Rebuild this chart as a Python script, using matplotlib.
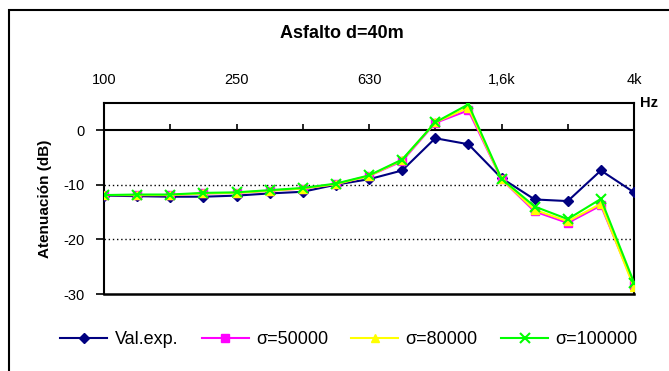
import matplotlib
matplotlib.use("Agg")
import matplotlib.pyplot as plt
from matplotlib.patches import Rectangle

freqs = ["100", "125", "160", "200", "250", "315", "400", "500", "630", "800",
         "1k", "1,25k", "1,6k", "2k", "2,5k", "3,15k", "4k"]
top_labels = ["100", "250", "630", "1,6k", "4k"]
val_exp = [-12.0, -12.1, -12.2, -12.2, -12.0, -11.6, -11.3, -10.0, -9.0, -7.4,
           -1.5, -2.6, -8.8, -12.7, -13.0, -7.4, -11.4]
s50000 = [-11.9, -11.9, -11.9, -11.6, -11.5, -11.1, -10.7, -9.9, -8.4, -5.7,
          1.3, 3.6, -9.0, -14.9, -17.0, -13.8, -28.4]
s80000 = [-11.9, -11.9, -11.9, -11.6, -11.5, -11.1, -10.7, -9.9, -8.4, -5.5,
          1.4, 4.1, -9.0, -14.6, -16.7, -13.5, -28.8]
s100000 = [-11.9, -11.8, -11.8, -11.5, -11.4, -11.0, -10.6, -9.8, -8.3, -5.4,
           1.4, 4.7, -8.9, -14.0, -16.3, -12.6, -27.9]
yticks = [0, -10, -20, -30]

plt.rcParams['font.family'] = ['Liberation Sans', 'DejaVu Sans']

W, H = 669, 371
fig = plt.figure(figsize=(W / 100, H / 100), dpi=100)
ax = fig.add_axes([104 / W, 1 - 294 / H, 530 / W, (294 - 102.7) / H])

x = list(range(len(freqs)))
ax.plot(x, val_exp, color='#000080', lw=1.5, marker='D', ms=5, label='Val.exp.', zorder=3)
ax.plot(x, s50000, color='#FF00FF', lw=1.5, marker='s', ms=6, label='σ=50000', zorder=4)
ax.plot(x, s80000, color='#FFFF00', lw=1.5, marker='^', ms=6, label='σ=80000', zorder=5)
ax.plot(x, s100000, color='#00FF00', lw=1.5, marker='x', ms=7, mew=1.5, label='σ=100000', zorder=6)

ax.set_xlim(0, len(freqs) - 1)
ax.set_ylim(-30, 5)

# x axis crossing at 0, ticks pointing up, every 2 categories
ax.spines['bottom'].set_position(('data', 0))
ax.set_xticks(x[::2])
ax.tick_params(axis='x', which='both', direction='in', length=4, width=1.2,
               labelbottom=False, top=False)
for s in ['left', 'right', 'top', 'bottom']:
    ax.spines[s].set_linewidth(1.5)
ax.axhline(-30, color='black', lw=1.8, clip_on=False, zorder=1)

# top labels
sec = ax.secondary_xaxis('top')
sec.set_xticks(x[::4])
sec.set_xticklabels(top_labels)
sec.tick_params(length=0, pad=11, labelsize=10.5)
sec.spines['top'].set_visible(False)

ax.set_yticks(yticks)
ax.set_yticklabels([str(v) for v in yticks])
ax.tick_params(axis='y', direction='out', length=6, width=1.2, labelsize=10.5, pad=8)
for v in [-10, -20]:
    ax.axhline(v, color='black', lw=1, ls=(0, (1, 2)), zorder=1)

ax.set_ylabel('Atenuación (dB)', fontsize=11, fontweight='bold', labelpad=8)
ax.text(1.012, 1.0, 'Hz', transform=ax.transAxes, fontsize=10.5, fontweight='bold',
        ha='left', va='center')

fig.text(342 / W, 1 - 33 / H, 'Asfalto d=40m', fontsize=13, fontweight='bold',
         ha='center', va='center')

fig.legend(loc='center', bbox_to_anchor=(349 / W, 1 - 340 / H), ncol=4, frameon=False,
           fontsize=13, handlelength=2.6, handletextpad=0.4, columnspacing=1.3)

fig.patches.append(Rectangle((9 / W, -0.5), 1.5, 1.5 - 10 / H, fill=False,
                             lw=1.5, edgecolor='black', transform=fig.transFigure))

fig.savefig('out.png', dpi=100)
